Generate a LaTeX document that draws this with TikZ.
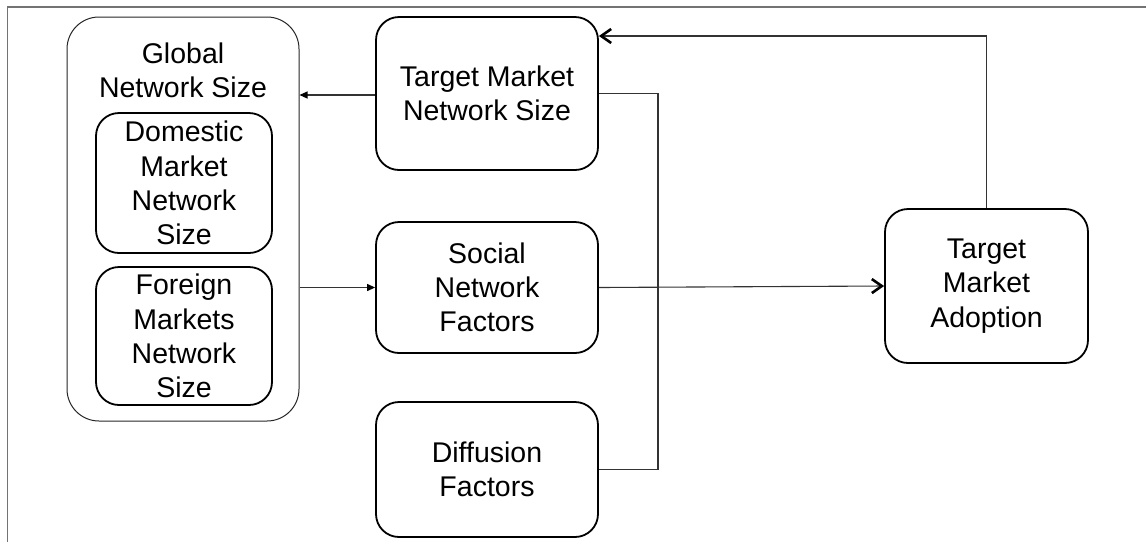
\documentclass[tikz,border=0pt]{standalone}
\usepackage{fontspec}
\setmainfont{Liberation Sans}
\usetikzlibrary{arrows.meta}
\begin{document}
\begin{tikzpicture}[x=1pt,y=-1pt,
  every node/.style={font=\fontsize{28.5}{34.3}\selectfont, align=center, inner sep=0pt},
  stepbox/.style={draw=black, line width=1.8pt, rounded corners=23pt},
  groupbox/.style={draw=black!85, line width=1pt, rounded corners=32pt},
  link/.style={draw=black!80, line width=1.1pt},
  filltip/.style={link, -{Triangle[length=8pt,width=7pt,black]}},
  barbtip/.style={link, -{Straight Barb[length=10pt,width=14pt,line width=2.6pt,black]}},
  frameline/.style={draw=black!55, line width=1.4pt}]
  \useasboundingbox (0,0) rectangle (1146,542);

  % page frame (top and left rules)
  \draw[frameline] (7.5,542) -- (7.5,7) -- (1146,7);

  % global network size group with its two parts
  \node[groupbox, minimum width=232pt, minimum height=404pt] (global) at (183,219) {};
  \node (gtitle) at (183,70.6) {Global\\Network Size};
  \node[stepbox, minimum width=176pt, minimum height=140pt] (dom) at (184,183)
    {Domestic\\Market\\Network\\Size};
  \node[stepbox, minimum width=176pt, minimum height=138pt] (for) at (184,336)
    {Foreign\\Markets\\Network\\Size};

  % middle column
  \node[stepbox, minimum width=222pt, minimum height=153pt] (target) at (487,93.5)
    {Target Market\\Network Size};
  \node[stepbox, minimum width=222pt, minimum height=131pt] (social) at (487,287.5)
    {Social\\Network\\Factors};
  \node[stepbox, minimum width=222pt, minimum height=135pt] (diff) at (487,469.5)
    {Diffusion\\Factors};

  % outcome
  \node[stepbox, minimum width=203pt, minimum height=154pt] (adopt) at (986.5,286)
    {Target\\Market\\Adoption};

  % junction column and feedback level
  \coordinate (j) at (658,0);
  \coordinate (fb) at (0,36);

  % connectors
  \draw[filltip] (target.west |- 0,95) -- (global.east |- 0,95);
  \draw[filltip] (global.east |- social.west) -- (social.west);
  \draw[barbtip] (social.east) -- (adopt.west);
  \draw[link] (target.east) -- (target.east -| j) -- (diff.east -| j) -- (diff.east);
  \draw[barbtip] (adopt.north) -- (adopt.north |- fb) -- (target.east |- fb);
\end{tikzpicture}
\end{document}
